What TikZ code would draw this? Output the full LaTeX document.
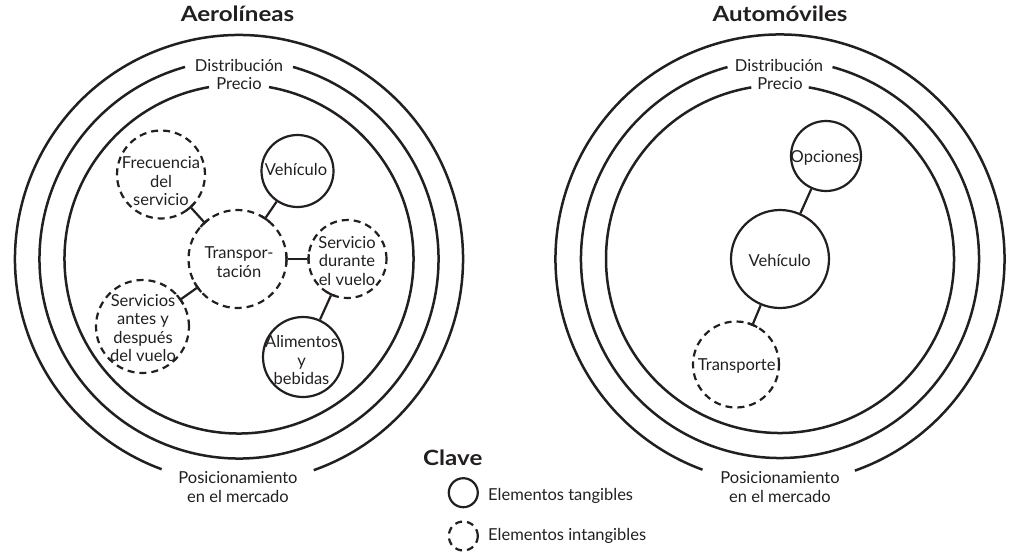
\documentclass[tikz,border=0pt]{standalone}
\usepackage{fontspec}
\setmainfont{Lato}
\definecolor{ink}{HTML}{231F20}
\begin{document}
\begin{tikzpicture}[x=1pt,y=1pt,
  ring/.style={draw=ink, line width=2.5pt},
  tang/.style={circle, draw=ink, line width=2.2pt, inner sep=0pt},
  intang/.style={tang, dash pattern=on 7pt off 5pt},
  link/.style={draw=ink, line width=2.2pt},
  tick/.style={draw=ink, line width=2.2pt},
  txt/.style={text=ink, font=\fontsize{16.5}{18.5}\selectfont, inner sep=0pt, align=center},
  ttl/.style={text=ink, font=\fontsize{21}{24}\selectfont\bfseries, inner sep=0pt}]
\useasboundingbox (0,0) rectangle (1009,-554);
\coordinate (LC) at (239,-259);
\coordinate (RC) at (780,-259);

% ---------- rings, left ----------
\draw[ring] ([shift={(-70.5:224)}]LC) arc[start angle=-70.5, end angle=249.8, radius=224];
\draw[ring] ([shift={(105.7:199.5)}]LC) arc[start angle=105.7, end angle=434.3, radius=199.5];
\draw[ring] ([shift={(99.9:174.5)}]LC) arc[start angle=99.9, end angle=440.1, radius=174.5];
% ---------- rings, right ----------
\draw[ring] ([shift={(-70.5:224.5)}]RC) arc[start angle=-70.5, end angle=249.8, radius=224.5];
\draw[ring] ([shift={(105.3:199)}]RC) arc[start angle=105.3, end angle=434.7, radius=199];
\draw[ring] ([shift={(99.5:174)}]RC) arc[start angle=99.5, end angle=440.5, radius=174];

% ---------- titles and ring labels ----------
\node[ttl, anchor=base] (titA) at (237.5,-21.7) {\scalebox{1.15}[1]{Aerolíneas}};
\node[ttl, anchor=base] (titB) at (780,-21.7) {\scalebox{1.15}[1]{Automóviles}};
\node[txt, anchor=base] (distA) at (239,-71.5) {Distribución};
\node[txt, anchor=base] (precA) at (239,-89.7) {Precio};
\node[txt, anchor=base] (distB) at (779,-71.5) {Distribución};
\node[txt, anchor=base] (precB) at (780,-89.7) {Precio};
\node[txt, anchor=north] (posA) at (238,-471.5) {Posicionamiento\\en el mercado};
\node[txt, anchor=north] (posB) at (780,-471.5) {Posicionamiento\\en el mercado};

% ---------- left circles ----------
\node[intang, minimum size=88] (frec) at (161,-174.5) {};
\node[tang, minimum size=72] (vehA) at (297.5,-171) {};
\node[intang, minimum size=98] (trans) at (237.5,-259) {};
\node[intang, minimum size=78] (durante) at (347.5,-259) {};
\node[intang, minimum size=93] (antes) at (142.5,-326.5) {};
\node[tang, minimum size=80] (alim) at (303,-357) {};

\node[txt] (tFrec) at (161,-181.5) {Frecuencia\\del\\servicio};
\node[txt, anchor=base] (tVehA) at (296,-175) {Vehículo};
\node[txt] (tTrans) at (239,-262) {Transpor-\\tación};
\node[txt] (tDur) at (347,-260.7) {Servicio\\durante\\el vuelo};
\node[txt] (tAntes) at (143,-328) {Servicios\\antes y\\después\\del vuelo};
\node[txt] (tAlim) at (301.5,-360) {Alimentos\\y\\bebidas};

\draw[link] (frec) -- (trans);
\draw[link] (vehA) -- (trans);
\draw[link] (trans) -- (durante);
\draw[link] (trans) -- (antes);
\draw[link] (durante) -- (alim);

\draw[tick] ([shift={(-54.8:44)}]frec.center) arc[start angle=-54.8, end angle=-40.8, radius=44];
\draw[tick] ([shift={(125.2:49)}]trans.center) arc[start angle=125.2, end angle=139.2, radius=49];
\draw[tick] ([shift={(-7:49)}]trans.center) arc[start angle=-7, end angle=7, radius=49];
\draw[tick] ([shift={(208.4:49)}]trans.center) arc[start angle=208.4, end angle=222.4, radius=49];
\draw[tick] ([shift={(48.7:49)}]trans.center) arc[start angle=48.7, end angle=62.7, radius=49];
\draw[tick] ([shift={(173:39)}]durante.center) arc[start angle=173, end angle=187, radius=39];
\draw[tick] ([shift={(238.6:39)}]durante.center) arc[start angle=238.6, end angle=252.6, radius=39];
\draw[tick] ([shift={(28.4:46.5)}]antes.center) arc[start angle=28.4, end angle=42.4, radius=46.5];

% ---------- right circles ----------
\node[tang, minimum size=70] (opc) at (826,-156) {};
\node[tang, minimum size=98] (vehB) at (780,-259) {};
\node[intang, minimum size=86] (transp) at (736,-364.5) {};

\node[txt, anchor=base] (tOpc) at (825,-162) {Opciones};
\node[txt, anchor=base] (tVehB) at (779.7,-266) {Vehículo};
\node[txt, anchor=base] (tTransp) at (736.7,-370.7) {Transporte};

\draw[link] (opc) -- (vehB);
\draw[link] (vehB) -- (transp);
\draw[tick] ([shift={(60.4:43)}]transp.center) arc[start angle=60.4, end angle=74.4, radius=43];

% ---------- legend ----------
\node[ttl, anchor=base west] (clave) at (423,-465) {\scalebox{1.15}[1]{Clave}};
\node[tang, minimum size=29] (legT) at (463.3,-492.7) {};
\node[intang, minimum size=29] (legI) at (463.3,-536) {};
\node[txt, anchor=base west] (legTt) at (488,-500.7) {Elementos tangibles};
\node[txt, anchor=base west] (legIt) at (488,-540) {Elementos intangibles};
\end{tikzpicture}
\end{document}
